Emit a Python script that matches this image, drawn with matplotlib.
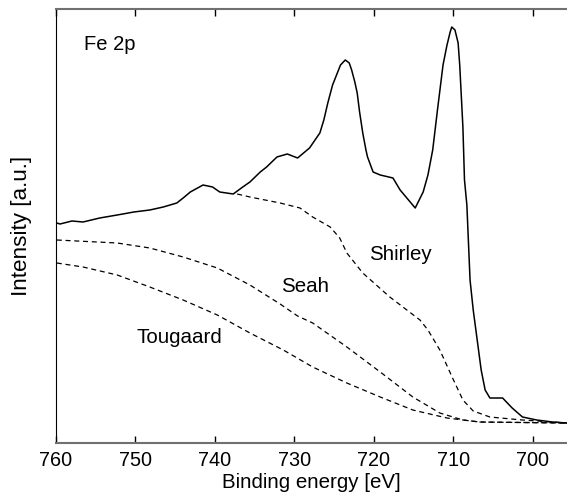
import matplotlib
matplotlib.use("Agg")
import matplotlib.pyplot as plt

plt.rcParams['font.family'] = ['Liberation Sans', 'DejaVu Sans']

# measured Fe 2p spectrum (binding energy in eV, intensity in arbitrary units)
spec_e = [759.9, 759.5, 758.0, 756.6, 754.5, 752.3, 750.2, 748.2, 746.5, 744.8,
          744.0, 743.1, 741.5, 740.3, 739.4, 737.7, 736.5, 735.6, 734.3, 733.5,
          732.2, 730.9, 729.6, 728.1, 726.8, 726.3, 725.8, 725.2, 724.7, 724.2,
          723.6, 723.1, 722.8, 722.4, 722.1, 721.8, 721.4, 721.0, 720.8, 720.1,
          719.2, 717.6, 716.7, 714.8, 713.8, 713.2, 712.6, 712.0, 711.3, 710.8,
          710.4, 710.2, 709.8, 709.4, 709.2, 708.8, 708.6, 708.3, 707.9, 707.5,
          707.0, 706.5, 706.0, 705.4, 703.8, 702.6, 701.3, 699.5, 697.5, 695.7]
spec_i = [220, 219, 222, 221, 225, 228, 231, 233, 236, 240,
          245, 251, 258, 256, 251, 249, 256, 261, 271, 276,
          286, 289, 285, 295, 310, 323, 340, 358, 368, 378,
          383, 380, 373, 361, 350, 331, 310, 293, 286, 271,
          268, 265, 253, 235, 251, 268, 293, 333, 378, 398,
          411, 416, 413, 400, 378, 316, 263, 238, 163, 133,
          103, 73, 53, 45, 45, 35, 26, 23, 21, 20]

# background models
shirley_e = [737.2, 735.6, 731.8, 729.3, 727.7, 725.5, 724.3, 723.4, 721.4, 718.0,
             714.2, 713.2, 711.7, 710.1, 708.8, 707.5, 705.4, 701.3, 695.7]
shirley_i = [249, 246, 240, 235, 226, 216, 205, 190, 170, 146,
             123, 113, 93, 65, 43, 32, 26, 23, 20]

seah_e = [759.9, 752.3, 748.2, 744.0, 739.7, 735.6, 731.8, 729.6, 727.7, 723.4,
          719.2, 715.1, 711.7, 708.8, 706.7, 695.7]
seah_i = [203, 200, 195, 186, 175, 158, 139, 127, 120, 96,
          71, 46, 30, 23, 21, 20]

tougaard_e = [759.9, 756.6, 752.3, 748.2, 744.0, 739.7, 735.6, 731.4, 727.7, 723.4,
              719.2, 715.1, 710.8, 706.7, 695.7]
tougaard_i = [180, 176, 168, 156, 143, 128, 110, 93, 76, 60,
              46, 33, 25, 21, 20]

fig = plt.figure(figsize=(5.67, 4.99), dpi=100)
ax = fig.add_axes([0.0988, 0.1122, 0.9012, 0.8698])

ax.plot(spec_e, spec_i, color='black', lw=1.1)
for e, i in [(shirley_e, shirley_i), (seah_e, seah_i), (tougaard_e, tougaard_i)]:
    ax.plot(e, i, color='black', lw=0.9, ls=(0, (4, 3)))

ax.text(753.2, 398, 'Fe 2p', fontsize=14.5, ha='center', va='center')
ax.text(716.7, 188, 'Shirley', fontsize=14.8, ha='center', va='center')
ax.text(728.7, 157, 'Seah', fontsize=14.8, ha='center', va='center')
ax.text(744.5, 106, 'Tougaard', fontsize=14.8, ha='center', va='center')

ax.set_xlim(760, 695.7)
ax.set_ylim(0, 434)
ax.set_xticks([760, 750, 740, 730, 720, 710, 700])
ax.set_yticks([])
ax.tick_params(axis='x', direction='in', top=True, length=5, width=1,
               labelsize=14.3, pad=6)
ax.set_xlabel('Binding energy [eV]', fontsize=14.8, labelpad=2)
ax.set_ylabel('Intensity [a.u.]', fontsize=16.2, labelpad=17)

ax.spines['left'].set_color('black')
for s in ['top', 'bottom']:
    ax.spines[s].set_color('#707070')
    ax.spines[s].set_linewidth(1.5)
ax.spines['right'].set_visible(False)

fig.savefig('out.png', dpi=100)
